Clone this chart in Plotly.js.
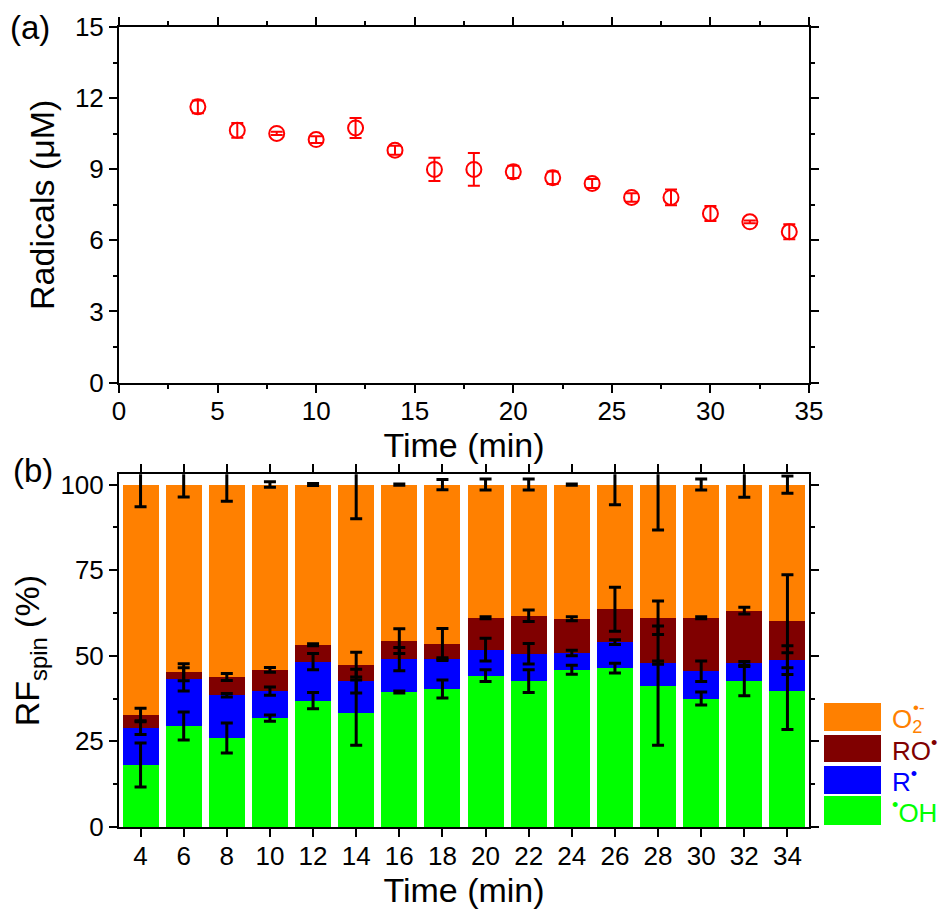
<!DOCTYPE html>
<html><head><meta charset="utf-8">
<script src="https://cdn.plot.ly/plotly-3.0.1.min.js"></script>
<style>html,body{margin:0;padding:0;background:#fff}#chart{width:943px;height:911px}</style>
</head><body><div id="chart"></div>
<script>
// ---- data (panel a) ----
const times = [4,6,8,10,12,14,16,18,20,22,24,26,28,30,32,34];
const radicals = [11.63,10.64,10.51,10.25,10.74,9.80,8.99,8.99,8.89,8.64,8.40,7.81,7.81,7.13,6.78,6.36];
const radicalsErr = [0.27,0.31,0.07,0.14,0.42,0.19,0.49,0.69,0.26,0.26,0.19,0.18,0.33,0.32,0.06,0.32];

// ---- data (panel b), percent per species ----
const seriesNames = ['•OH','R•','RO•','O2•-'];
const rfOH = [18.1,29.5,26.0,31.8,36.9,33.4,39.4,40.3,44.2,42.6,45.9,46.4,41.3,37.5,42.6,39.7];
const rfR  = [10.9,13.6,12.5,7.9,11.4,9.2,9.6,8.7,7.6,8.0,4.9,7.6,6.7,8.0,5.2,9.0];
const rfRO = [3.7,2.1,5.3,6.2,4.9,4.8,5.3,4.5,9.3,11.1,10.0,9.6,13.1,15.6,15.4,11.4];
const rfO2 = [67.3,54.8,56.2,54.1,46.8,52.6,45.7,46.5,38.9,38.3,39.2,36.4,38.9,38.9,36.8,39.9];
const errOH = [6.4,4.1,4.4,0.9,2.4,9.5,0.3,2.6,1.7,3.3,1.3,1.4,17.4,1.9,4.3,11.2];
const errR  = [2.0,3.4,0.5,1.2,2.4,3.5,3.4,0.4,3.3,3.0,0.8,0.7,0.5,3.0,0.5,4.2];
const errRO = [2.0,2.5,1.0,0.7,0.3,3.6,3.6,4.5,0.3,1.7,0.6,6.4,4.9,0.3,1.0,13.6];
const errO2 = [6.5,3.6,4.9,0.8,0.3,10.0,0.2,1.5,1.6,1.6,0.2,5.9,13.3,1.6,3.7,2.5];
const tickTimes = [4,6,8,10,12,14,16,18,20,22,24,26,28,30,32,34];

const colors = ['#00FF00','#0000FF','#800000','#FF8000'];
const segs = [rfOH, rfR, rfRO, rfO2];
const errs = [errOH, errR, errRO, errO2];

// geometry helpers (pixel -> paper)
const PL=119, PR=809, PT=27, PB=827, W=943, H=911;
const fx = p => (p-PL)/(PR-PL);
const fy = p => (PB-p)/(PB-PT);

const FONT = 'Arial, "Liberation Sans", sans-serif';
const traces = [];

traces.push({
  type:'scatter', mode:'markers', x:times, y:radicals, xaxis:'x', yaxis:'y',
  marker:{symbol:'circle-open', size:15, color:'#FF0000', line:{color:'#FF0000', width:2}},
  error_y:{type:'data', array:radicalsErr, color:'#FF0000', thickness:2, width:6},
  showlegend:false, hoverinfo:'x+y'
});

segs.forEach((s,i)=>{
  traces.push({type:'bar', x:times, y:s, xaxis:'x2', yaxis:'y2', name:seriesNames[i],
    marker:{color:colors[i], line:{width:0}}, showlegend:false});
});
// error bars at cumulative tops
let cum = times.map(()=>0);
segs.forEach((s,i)=>{
  cum = cum.map((c,j)=>c+s[j]);
  traces.push({type:'scatter', mode:'markers', x:times, y:cum.slice(), xaxis:'x2', yaxis:'y2',
    marker:{color:'rgba(0,0,0,0)', size:1},
    error_y:{type:'data', array:errs[i], color:'#000', thickness:3, width:6},
    showlegend:false, hoverinfo:'skip'});
});

const axBase = {
  showline:true, linewidth:2, linecolor:'#000', mirror:'ticks',
  ticks:'outside', ticklen:8, tickwidth:2, tickcolor:'#000',
  showgrid:false, zeroline:false,
  tickfont:{family:FONT, size:26, color:'#000'}
};

const shapes = [], annotations = [];
// legend boxes (top to bottom: O2, RO, R, OH)
const legBoxes = [[703,731,3],[735,762,2],[766,794,1],[796,825,0]];
legBoxes.forEach(b=>{
  shapes.push({type:'rect', xref:'paper', yref:'paper', x0:fx(824), x1:fx(881), y0:fy(b[1]), y1:fy(b[0]),
    fillcolor:colors[b[2]], line:{width:0}});
});
const legText = [
  ['O<sub>2</sub>', 3, 720],
  ['RO<sup>•</sup>', 2, 749],
  ['R<sup>•</sup>', 1, 780],
  ['<sup>•</sup>OH', 0, 811]
];
legText.forEach(t=>{
  annotations.push({xref:'paper', yref:'paper', x:fx(890), y:fy(t[2]), xanchor:'left', yanchor:'middle',
    text:t[0], showarrow:false, font:{family:FONT, size:26, color:colors[t[1]]}});
});
annotations.push({xref:'paper', yref:'paper', x:fx(911), y:fy(707), xanchor:'left', yanchor:'middle',
  text:'•-', showarrow:false, font:{family:FONT, size:17, color:colors[3]}});
annotations.push({xref:'paper', yref:'paper', x:fx(30), y:fy(27), xanchor:'center', yanchor:'middle',
  text:'(a)', showarrow:false, font:{family:FONT, size:33, color:'#000'}});
annotations.push({xref:'paper', yref:'paper', x:fx(33), y:fy(470), xanchor:'center', yanchor:'middle',
  text:'(b)', showarrow:false, font:{family:FONT, size:33, color:'#000'}});

const layout = {
  width:W, height:H, margin:{l:PL, r:W-PR, t:PT, b:H-PB},
  paper_bgcolor:'#fff', plot_bgcolor:'#fff',
  font:{family:FONT, color:'#000'},
  barmode:'stack', bargap:0.165, showlegend:false,
  xaxis:Object.assign({}, axBase, {anchor:'y', domain:[0,1], range:[0,35], tick0:0, dtick:5,
    ticklabelstandoff:-4,
    minor:{dtick:2.5, ticks:'outside', ticklen:4, tickwidth:2, tickcolor:'#000'},
    title:{text:'Time (min)', font:{family:FONT, size:34}, standoff:0}}),
  yaxis:Object.assign({}, axBase, {anchor:'x', domain:[fy(382.5),1], range:[0,15], tick0:0, dtick:3,
    minor:{dtick:1.5, ticks:'outside', ticklen:4, tickwidth:2, tickcolor:'#000'},
    title:{text:'Radicals (μM)', font:{family:FONT, size:34}, standoff:10}}),
  xaxis2:Object.assign({}, axBase, {anchor:'y2', domain:[0,1], range:[3,35], tickmode:'array', tickvals:tickTimes,
    ticktext:tickTimes.map(String), ticklabelstandoff:-3,
    title:{text:'Time (min)', font:{family:FONT, size:34}, standoff:0}}),
  yaxis2:Object.assign({}, axBase, {anchor:'x2', domain:[0,fy(474.3)], range:[0,103], tick0:0, dtick:25,
    minor:{dtick:12.5, ticks:'outside', ticklen:4, tickwidth:2, tickcolor:'#000'},
    title:{text:'RF<sub>spin</sub> (%)', font:{family:FONT, size:34}, standoff:10}}),
  shapes:shapes, annotations:annotations
};

Plotly.newPlot('chart', traces, layout, {displayModeBar:false, staticPlot:true});
</script></body></html>
